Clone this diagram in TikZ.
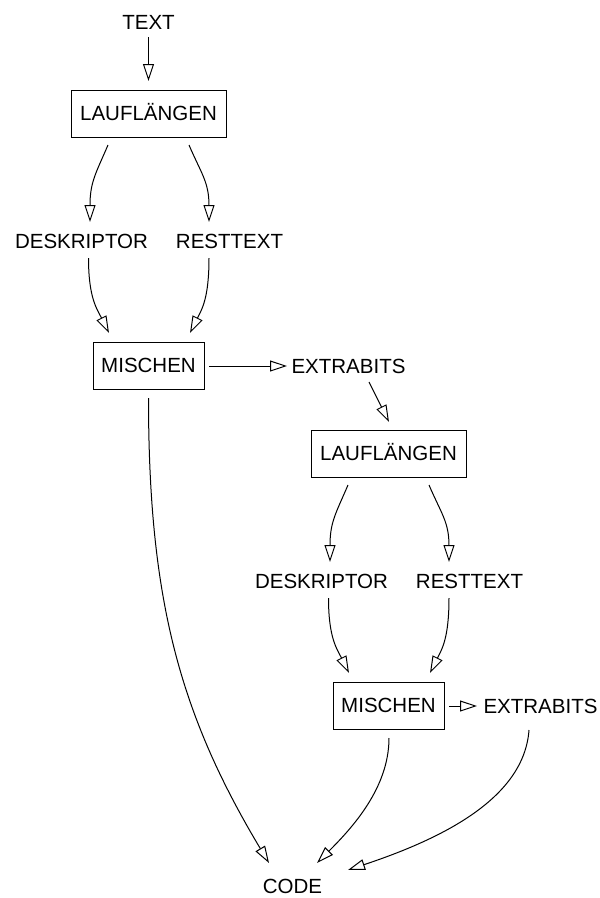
\documentclass[tikz,border=0pt]{standalone}
\usepackage{fontspec}
\setmainfont{Liberation Sans}
\usetikzlibrary{arrows.meta}

\tikzset{
  lbl/.style={inner sep=0pt, text height=14.7pt, text depth=0pt,
              font=\fontsize{20.5}{24}\selectfont},
  stage/.style={lbl, draw, line width=1pt, minimum height=47pt},
  flow/.style={line width=1pt,
               -{Triangle[open, length=17pt, width=11pt, line width=1pt]}},
}

\begin{document}
\begin{tikzpicture}[x=1pt, y=-1pt]
\useasboundingbox (0,0) rectangle (600,898);

% first round
\node[lbl] (T) at (148.5,22.5) {TEXT};
\node[stage, minimum width=155pt] (L1) at (148.5,113.5) {LAUFLÄNGEN};
\node[lbl] (D1) at (81.5,241.5) {DESKRIPTOR};
\node[lbl] (R1) at (229.5,241.5) {RESTTEXT};
\node[stage, minimum width=111pt] (M1) at (148.5,365.5) {MISCHEN};
\node[lbl] (E1) at (348.5,366) {EXTRABITS};

% second round
\node[stage, minimum width=155pt] (L2) at (388.5,453.5) {LAUFLÄNGEN};
\node[lbl] (D2) at (321.5,581.5) {DESKRIPTOR};
\node[lbl] (R2) at (469.5,581.5) {RESTTEXT};
\node[stage, minimum width=111pt] (M2) at (388.5,705.5) {MISCHEN};
\node[lbl] (E2) at (540.5,706) {EXTRABITS};

\node[lbl] (C) at (292.5,886.5) {CODE};

% connectors, first round
\draw[flow] ([shift={(0,14.5)}]T.center) -- ([shift={(0,-32.5)}]L1.center);
\draw[flow] ([shift={(-40.5,31.5)}]L1.center)
  .. controls +(-12,28) and +(0,-40) .. ([shift={(8.5,-19.5)}]D1.center);
\draw[flow] ([shift={(40.5,31.5)}]L1.center)
  .. controls +(12,28) and +(0,-40) .. ([shift={(-20.5,-19.5)}]R1.center);
\draw[flow] ([shift={(7,16.5)}]D1.center)
  .. controls +(0,40) and +(-12,-24) .. ([shift={(-39.5,-32.5)}]M1.center);
\draw[flow] ([shift={(-20.5,16.5)}]R1.center)
  .. controls +(0,40) and +(12,-24) .. ([shift={(41.5,-32.5)}]M1.center);
\draw[flow] ([shift={(60.5,0.5)}]M1.center) -- ([shift={(-61.5,0)}]E1.center);
\draw[flow] ([shift={(20.5,16)}]E1.center) -- ([shift={(0.5,-31.5)}]L2.center);

% connectors, second round
\draw[flow] ([shift={(-40.5,31.5)}]L2.center)
  .. controls +(-12,28) and +(0,-40) .. ([shift={(8.5,-19.5)}]D2.center);
\draw[flow] ([shift={(40.5,31.5)}]L2.center)
  .. controls +(12,28) and +(0,-40) .. ([shift={(-20.5,-19.5)}]R2.center);
\draw[flow] ([shift={(7,16.5)}]D2.center)
  .. controls +(0,40) and +(-12,-24) .. ([shift={(-39.5,-32.5)}]M2.center);
\draw[flow] ([shift={(-20.5,16.5)}]R2.center)
  .. controls +(0,40) and +(12,-24) .. ([shift={(41.5,-32.5)}]M2.center);
\draw[flow] ([shift={(60.5,0.5)}]M2.center) -- ([shift={(-63.5,0)}]E2.center);

% everything ends in CODE
\draw[flow] ([shift={(0,32.5)}]M1.center)
  .. controls +(0,200) and +(-90,-150) .. ([shift={(-23.5,-23.5)}]C.center);
\draw[flow] ([shift={(0.5,32.5)}]M2.center)
  .. controls +(0,50) and +(35,-35) .. ([shift={(24.5,-23.5)}]C.center);
\draw[flow] ([shift={(-11.5,24)}]E2.center)
  .. controls +(-5,70) and +(90,-30) .. ([shift={(55.5,-16.5)}]C.center);
\end{tikzpicture}
\end{document}
